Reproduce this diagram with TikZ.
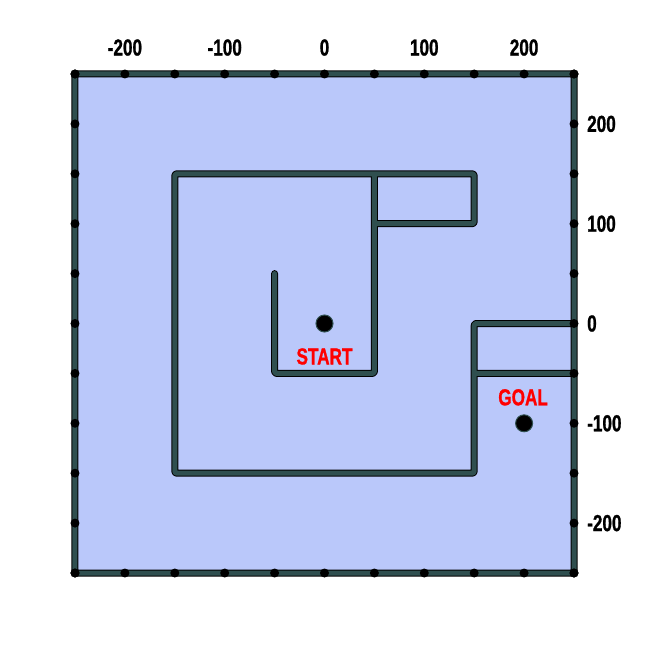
\documentclass[tikz,border=0pt]{standalone}
\usepackage{fontspec}
\usepackage{graphicx}
\setmainfont{Liberation Sans}
\definecolor{bgblue}{RGB}{186,200,250}
\definecolor{wallc}{RGB}{47,79,79}
\newcommand{\lbl}[1]{\scalebox{0.78}[1.05]{\bfseries\addfontfeature{FakeBold=1.2}\fontsize{22}{22}\selectfont #1}}
\tikzset{
  wallstyle/.style={draw=wallc, line width=5pt, line cap=round, line join=round,
    preaction={draw=black, line width=7pt, line cap=round, line join=round}},
  dotstyle/.style={circle, fill=black, inner sep=0pt, minimum size=9pt},
  markstyle/.style={circle, fill=black, draw=wallc, line width=1pt, inner sep=0pt, minimum size=17pt},
  axislbl/.style={inner sep=0pt, text=black},
  redlbl/.style={inner sep=0pt, text=red}
}
\begin{document}
\begin{tikzpicture}[x=0.998pt,y=0.998pt]
\useasboundingbox (-325.15,-327.15) rectangle (326.15,324.15);
\fill[white] (-325.15,-327.15) rectangle (326.15,324.15);
\fill[bgblue] (-250,-250) rectangle (250,250);
% walls
\path[wallstyle, rounded corners=2pt]
  (-250,-250) -- (250,-250) -- (250,250) -- (-250,250) -- cycle
  (250,0) -- (150,0) -- (150,-150) -- (-150,-150) -- (-150,150) -- (150,150) -- (150,100) -- (50,100)
  (50,150) -- (50,-50) -- (-50,-50) -- (-50,50)
  (150,-50) -- (250,-50);
% boundary dots
\foreach \t [count=\i] in {-250,-200,...,250} {
  \node[dotstyle] (db\i) at (\t,-250) {};
  \node[dotstyle] (dt\i) at (\t,250) {};
  \node[dotstyle] (dl\i) at (-250,\t) {};
  \node[dotstyle] (dr\i) at (250,\t) {};
}
% start and goal
\node[markstyle] (start) at (0,0) {};
\node[markstyle] (goal) at (200,-100) {};
\node[redlbl] (startlbl) at (0,-33) {\lbl{START}};
\node[redlbl] (goallbl) at (199,-74) {\lbl{GOAL}};
% axis labels
\foreach \v [count=\i] in {-200,-100,0,100,200} {
  \node[axislbl] (tx\i) at (\v,276.5) {\lbl{\v}};
  \node[axislbl, anchor=west] (ry\i) at (263,\v) {\lbl{\v}};
}
\end{tikzpicture}
\end{document}
